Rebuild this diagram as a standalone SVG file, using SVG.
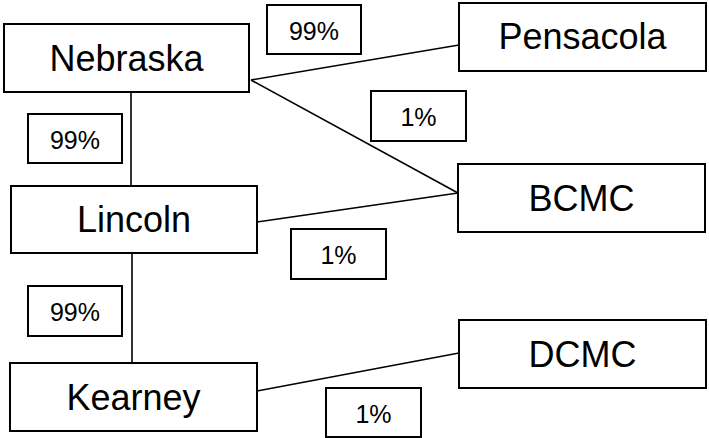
<svg xmlns="http://www.w3.org/2000/svg" width="709" height="438" viewBox="0 0 709 438">
<style>
.box{fill:#fff;stroke:#000;stroke-width:2}
.lbl{fill:#fff;stroke:#000;stroke-width:2}
.name{font-family:"Liberation Sans",Arial,sans-serif;font-size:36px;text-anchor:middle;fill:#000}
.pct{font-family:"Liberation Sans",Arial,sans-serif;font-size:25px;text-anchor:middle;fill:#000}
.conn line{stroke:#000;stroke-width:1.6}
</style>
<rect width="709" height="438" fill="#fff"/>
<g id="connectors" class="conn">
<line x1="131" y1="92" x2="131" y2="186"/>
<line x1="132" y1="253" x2="132" y2="363"/>
<line x1="251" y1="80" x2="459" y2="45"/>
<line x1="251" y1="80" x2="458" y2="193"/>
<line x1="257" y1="222" x2="458" y2="193"/>
<line x1="257" y1="391" x2="459" y2="353"/>
</g>
<g id="nebraska"><rect class="box" x="4" y="24" width="245" height="68"/><text class="name" x="126.5" y="71">Nebraska</text></g>
<g id="lincoln"><rect class="box" x="11" y="186" width="246" height="67"/><text class="name" x="134" y="232">Lincoln</text></g>
<g id="kearney"><rect class="box" x="10" y="363" width="247" height="68"/><text class="name" x="133.5" y="410">Kearney</text></g>
<g id="pensacola"><rect class="box" x="459" y="3" width="247" height="68"/><text class="name" x="582.5" y="49">Pensacola</text></g>
<g id="bcmc"><rect class="box" x="458" y="164" width="247" height="68"/><text class="name" x="581.5" y="211">BCMC</text></g>
<g id="dcmc"><rect class="box" x="459" y="320" width="247" height="68"/><text class="name" x="582.5" y="367">DCMC</text></g>
<g id="lbl-neb-pen"><rect class="lbl" x="267" y="5" width="94" height="49"/><text class="pct" x="314" y="40">99%</text></g>
<g id="lbl-neb-lin"><rect class="lbl" x="28" y="114" width="94" height="49"/><text class="pct" x="75" y="149">99%</text></g>
<g id="lbl-lin-kea"><rect class="lbl" x="28" y="286" width="94" height="50"/><text class="pct" x="75" y="321">99%</text></g>
<g id="lbl-neb-bcmc"><rect class="lbl" x="371" y="91" width="95" height="50"/><text class="pct" x="418.5" y="126">1%</text></g>
<g id="lbl-lin-bcmc"><rect class="lbl" x="291" y="229" width="95" height="50"/><text class="pct" x="338.5" y="264">1%</text></g>
<g id="lbl-kea-dcmc"><rect class="lbl" x="326" y="388" width="95" height="49"/><text class="pct" x="373.5" y="423">1%</text></g>
</svg>
